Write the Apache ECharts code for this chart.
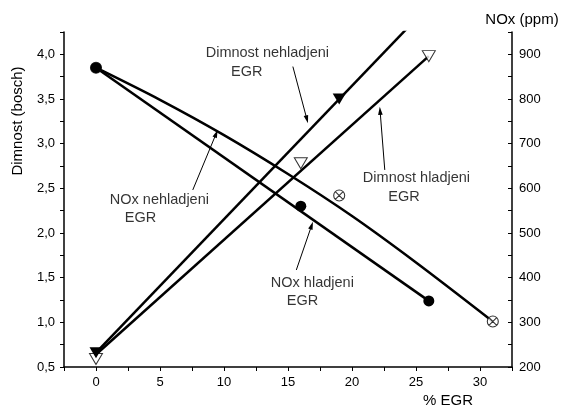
<!DOCTYPE html>
<html>
<head>
<meta charset="utf-8">
<script src="https://cdn.jsdelivr.net/npm/echarts@6/dist/echarts.min.js"></script>
<style>
html,body{margin:0;padding:0;background:#fff;}
#c{width:561px;height:409px;}
</style>
</head>
<body>
<div id="c"></div>
<script>
// ---- data (x = % EGR) ----
// measured points
const noxHladX = [0, 16, 26];
const noxHladY = [870, 560, 348];          // NOx ppm, cooled EGR (filled circles)
const noxNehX = [0, 19, 31];
const noxNehY = [870, 584, 302];           // NOx ppm, uncooled EGR (crossed circles)
const dimNehX = [0, 19];
const dimNehY = [0.66, 3.5];               // smoke (bosch), uncooled EGR (filled triangles)
const dimHladX = [0, 16, 26];
const dimHladY = [0.59, 2.78, 3.98];       // smoke (bosch), cooled EGR (open triangles)
// fitted curves as drawn in the figure
const noxHladFitX = [0, 26];
const noxHladFitY = [870, 348];
const noxNehFitX = [0, 5, 10, 15, 20, 25, 31];
const noxNehFitY = [870, 798, 719, 632, 538, 434, 302];
const dimNehFitX = [0, 24.5];
const dimNehFitY = [0.66, 4.32];
const dimHladFitX = [0, 26];
const dimHladFitY = [0.64, 3.98];
// annotations (data coordinates on left axis)
const annText = ['Dimnost nehladjeni', 'EGR', 'Dimnost hladjeni', 'EGR', 'NOx nehladjeni', 'EGR', 'NOx hladjeni', 'EGR'];
const annX = [8.53, 10.51, 20.81, 22.79, 1.04, 2.21, 13.62, 14.87];
const annY = [4.013, 3.807, 2.613, 2.407, 2.370, 2.169, 1.444, 1.239];
const arrowFromX = [15.38, 22.56, 7.56, 15.65];
const arrowFromY = [3.863, 2.706, 2.482, 1.586];
const arrowToX = [16.56, 22.17, 9.51, 16.95];
const arrowToY = [3.229, 3.412, 3.154, 2.127];
// axis titles
const xTitle = '% EGR';
const yLeftTitle = 'Dimnost (bosch)';
const yRightTitle = 'NOx (ppm)';

const FONT = '"Liberation Sans", Arial, sans-serif';
const zip = (xs, ys) => xs.map((x, i) => [x, ys[i]]);
const crossCircle = 'path://M10,0A10,10,0,1,1,10,20A10,10,0,1,1,10,0ZM2.93,2.93L17.07,17.07M17.07,2.93L2.93,17.07';

const chart = echarts.init(document.getElementById('c'), null, {renderer: 'canvas'});
const lineStyle = {color: '#000', width: 2.5};
const axisLine = {show: true, onZero: false, lineStyle: {color: '#000', width: 1.5}};
const tickStyle = {lineStyle: {color: '#000', width: 1}};

function renderArrow(params, api) {
  const p0 = api.coord([api.value(0), api.value(1)]);
  const p1 = api.coord([api.value(2), api.value(3)]);
  const dx = p1[0] - p0[0], dy = p1[1] - p0[1];
  const len = Math.sqrt(dx * dx + dy * dy) || 1;
  const ux = dx / len, uy = dy / len;
  const headLen = 8, halfW = 2.3;
  const bx = p1[0] - ux * headLen, by = p1[1] - uy * headLen;
  return {
    type: 'group',
    children: [
      {type: 'line', shape: {x1: p0[0], y1: p0[1], x2: bx + ux, y2: by + uy},
       style: {stroke: '#000', lineWidth: 1}},
      {type: 'polygon', shape: {points: [
        [p1[0], p1[1]],
        [bx - uy * halfW, by + ux * halfW],
        [bx + uy * halfW, by - ux * halfW]
      ]}, style: {fill: '#000'}}
    ]
  };
}

chart.setOption({
  animation: false,
  backgroundColor: '#fff',
  grid: {left: 64, right: 49, top: 32, bottom: 42, containLabel: false, outerBoundsMode: 'none'},
  xAxis: {
    type: 'value', min: -2.5, max: 32.5, interval: 2.5,
    axisLine: axisLine,
    axisTick: Object.assign({show: true, length: 4, inside: false}, tickStyle),
    splitLine: {show: false},
    axisLabel: {
      color: '#000', fontSize: 13, fontFamily: FONT, margin: 9,
      formatter: v => (Math.abs(v % 5) < 1e-6 && v >= 0 && v <= 30) ? String(v) : ''
    }
  },
  yAxis: [
    {
      type: 'value', position: 'left', min: 0.5, max: 4.25, interval: 0.25,
      axisLine: axisLine,
      axisTick: Object.assign({show: true, length: 4, inside: false}, tickStyle),
      splitLine: {show: false},
      axisLabel: {
        color: '#000', fontSize: 13, fontFamily: FONT, margin: 9,
        formatter: v => (Math.abs((v * 2) % 1) < 1e-6 && v <= 4.0) ? v.toFixed(1).replace('.', ',') : ''
      }
    },
    {
      type: 'value', position: 'right', min: 200, max: 950, interval: 50,
      axisLine: axisLine,
      axisTick: Object.assign({show: true, length: 4, inside: true}, tickStyle),
      splitLine: {show: false},
      axisLabel: {
        color: '#000', fontSize: 13, fontFamily: FONT, margin: 7,
        formatter: v => (v % 100 === 0 && v <= 900) ? String(v) : ''
      }
    }
  ],
  series: [
    {type: 'line', name: 'NOx nehladjeni fit', yAxisIndex: 1, data: zip(noxNehFitX, noxNehFitY),
     showSymbol: false, symbol: 'none', smooth: 0.3, lineStyle: lineStyle, z: 2},
    {type: 'line', name: 'NOx hladjeni fit', yAxisIndex: 1, data: zip(noxHladFitX, noxHladFitY),
     showSymbol: false, symbol: 'none', lineStyle: lineStyle, z: 2},
    {type: 'line', name: 'Dimnost nehladjeni fit', yAxisIndex: 0, data: zip(dimNehFitX, dimNehFitY),
     showSymbol: false, symbol: 'none', lineStyle: lineStyle, z: 2, clip: true},
    {type: 'line', name: 'Dimnost hladjeni fit', yAxisIndex: 0, data: zip(dimHladFitX, dimHladFitY),
     showSymbol: false, symbol: 'none', lineStyle: lineStyle, z: 2},
    {type: 'scatter', name: 'NOx nehladjeni', yAxisIndex: 1, data: zip(noxNehX, noxNehY),
     symbol: crossCircle, symbolSize: 11,
     itemStyle: {color: '#fff', borderColor: '#000', borderWidth: 1.1}, z: 3},
    {type: 'scatter', name: 'NOx hladjeni', yAxisIndex: 1, data: zip(noxHladX, noxHladY),
     symbol: 'circle', symbolSize: 11, itemStyle: {color: '#000', opacity: 1}, z: 4},
    {type: 'scatter', name: 'Dimnost hladjeni', yAxisIndex: 0, data: zip(dimHladX, dimHladY),
     symbol: 'triangle', symbolRotate: 180, symbolSize: [13, 11],
     itemStyle: {color: '#fff', borderColor: '#000', borderWidth: 1}, z: 3},
    {type: 'scatter', name: 'Dimnost nehladjeni', yAxisIndex: 0, data: zip(dimNehX, dimNehY),
     symbol: 'triangle', symbolRotate: 180, symbolSize: [13, 11],
     itemStyle: {color: '#000', opacity: 1}, z: 4},
    {type: 'custom', name: 'arrows', yAxisIndex: 0, silent: true,
     data: arrowFromX.map((x, i) => [x, arrowFromY[i], arrowToX[i], arrowToY[i]]),
     encode: {x: [0, 2], y: [1, 3]},
     renderItem: renderArrow, z: 5},
    {type: 'scatter', name: 'annotations', yAxisIndex: 0, silent: true,
     data: annText.map((t, i) => ({name: t, value: [annX[i], annY[i]]})),
     symbol: 'circle', symbolSize: 1, itemStyle: {color: 'rgba(0,0,0,0)'},
     label: {show: true, position: 'right', distance: 0, formatter: '{b}',
             color: '#000', fontSize: 14.5, fontFamily: FONT},
     z: 5}
  ],
  graphic: [
    {type: 'text', x: 18, y: 121, rotation: Math.PI / 2,
     style: {text: yLeftTitle, fill: '#000', font: '15px ' + FONT, align: 'center', verticalAlign: 'middle'}},
    {type: 'text', x: 522, y: 20,
     style: {text: yRightTitle, fill: '#000', font: '15px ' + FONT, align: 'center', verticalAlign: 'middle'}},
    {type: 'text', x: 448, y: 401,
     style: {text: xTitle, fill: '#000', font: '15px ' + FONT, align: 'center', verticalAlign: 'middle'}}
  ]
});
</script>
</body>
</html>
